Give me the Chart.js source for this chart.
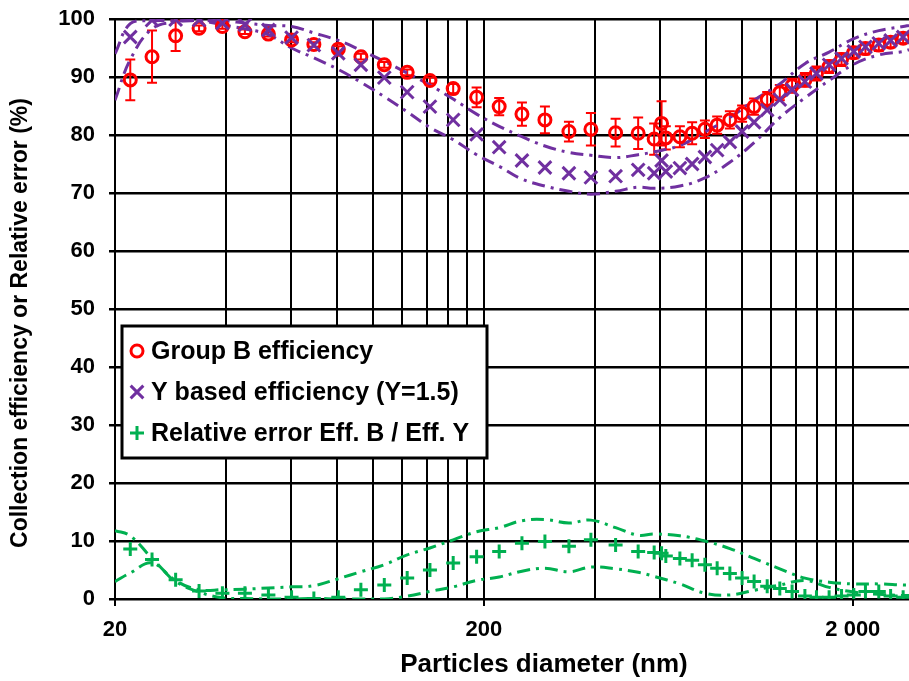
<!DOCTYPE html>
<html>
<head>
<meta charset="utf-8">
<script src="https://cdn.jsdelivr.net/npm/chart.js@4.4.1/dist/chart.umd.min.js"></script>
<style>
html,body{margin:0;padding:0;background:#fff;}
#wrap{width:909px;height:681px;position:relative;}
</style>
</head>
<body>
<div id="wrap"><canvas id="c" width="909" height="681"></canvas></div>
<script>
// ---- data ----
const seriesLabels = ['Group B efficiency', 'Y based efficiency (Y=1.5)', 'Relative error Eff. B / Eff. Y'];

// first instrument (fine channels)
const smpsDiameters = [22.0, 25.2, 29.2, 33.8, 39.1, 45.0, 52.1, 60.2, 69.2, 80.6, 92.8, 107.4, 123.9, 142.8, 165.1, 191.1, 220.0, 253.6, 292.7, 340.0, 390.0, 455.0, 523.8, 606.2];
const smpsGroupB    = [89.5, 93.5, 97.1, 98.4, 98.7, 97.8, 97.4, 96.4, 95.6, 94.8, 93.5, 92.1, 90.8, 89.4, 88.0, 86.5, 84.9, 83.6, 82.6, 80.6, 81.0, 80.4, 80.3, 82.0];
const smpsGroupBErr = [3.5, 4.5, 2.6, 0.5, 0.4, 0.4, 0.4, 0.4, 0.4, 0.5, 0.5, 0.5, 0.5, 0.5, 0.8, 1.7, 1.5, 2.0, 2.3, 1.7, 2.8, 2.4, 2.7, 3.8];
const smpsYBased    = [96.9, 99.8, 99.9, 99.8, 99.3, 99.0, 98.1, 96.8, 95.5, 94.1, 92.1, 89.9, 87.4, 84.9, 82.6, 80.1, 77.9, 75.6, 74.4, 73.4, 72.7, 72.9, 74.0, 75.6];
const smpsRelErr    = [8.6, 6.8, 3.3, 1.4, 1.0, 1.0, 0.7, 0.3, 0.1, 0.3, 1.6, 2.4, 3.6, 5.0, 6.2, 7.3, 8.2, 9.6, 9.9, 9.1, 10.2, 9.3, 8.2, 7.9];

// second instrument (coarse channels)
const apsDiameters = [578.8, 622.5, 679.6, 733.6, 794.4, 857.6, 928.4, 1002, 1080, 1172, 1268, 1369, 1483, 1594, 1725, 1864, 2012, 2164, 2352, 2532, 2738];
const apsGroupB    = [79.3, 79.5, 79.7, 80.3, 81.0, 81.7, 82.6, 83.7, 84.9, 86.1, 87.3, 88.5, 89.5, 90.6, 91.8, 93.0, 94.2, 94.9, 95.5, 96.0, 96.7];
const apsGroupBErr = [2.7, 2.0, 1.8, 1.9, 1.5, 1.5, 1.5, 1.4, 1.4, 1.3, 1.3, 1.2, 1.2, 1.2, 1.1, 1.1, 1.0, 1.0, 1.0, 0.9, 0.9];
const apsYBased    = [73.4, 73.7, 74.3, 75.0, 76.2, 77.4, 78.8, 80.6, 82.2, 84.3, 86.1, 87.8, 89.2, 90.6, 92.1, 93.2, 94.4, 95.2, 95.8, 96.3, 96.9];
const apsRelErr    = [8.0, 7.4, 7.0, 6.7, 5.9, 5.3, 4.4, 3.6, 3.0, 2.2, 1.8, 1.3, 0.5, 0.3, 0.3, 0.5, 0.7, 1.3, 1.3, 0.5, 0.3];

// uncertainty envelopes (dash-dot lines)
const bandDiameters = [20, 22.0, 25.2, 29.2, 33.8, 39.1, 45.0, 52.1, 60.2, 69.2, 80.6, 92.8, 107.4, 123.9, 142.8, 165.1, 191.1, 220.0, 253.6, 292.7, 340.0, 390.0, 455.0, 523.8, 578.8, 679.6, 794.4, 928.4, 1080, 1268, 1483, 1725, 2012, 2352, 2738, 2840];
const yBandUpper = [94.0, 99.2, 99.7, 99.7, 99.7, 99.7, 99.3, 98.9, 98.7, 97.6, 96.3, 94.6, 92.7, 90.7, 88.6, 86.2, 83.6, 81.5, 79.7, 78.1, 77.0, 76.5, 76.1, 76.6, 77.1, 78.2, 80.5, 83.0, 86.0, 88.8, 92.3, 94.3, 96.6, 98.0, 98.7, 98.9];
const yBandLower = [86.0, 93.0, 98.3, 99.5, 99.7, 99.0, 98.3, 97.3, 95.0, 93.3, 91.3, 89.1, 86.6, 84.0, 81.3, 79.2, 76.6, 74.6, 72.4, 71.2, 70.3, 69.8, 70.3, 71.0, 70.8, 71.2, 72.6, 75.3, 78.7, 83.0, 86.4, 89.4, 92.2, 93.8, 94.4, 94.7];
const errBandA   = [11.8, 10.9, 7.0, 3.2, 1.6, 1.6, 1.7, 1.9, 2.1, 2.3, 3.5, 4.7, 5.9, 7.6, 8.8, 10.2, 11.6, 12.3, 13.5, 13.7, 13.1, 13.6, 12.3, 11.0, 11.2, 10.9, 10.0, 8.7, 7.0, 5.2, 3.6, 2.9, 2.6, 2.6, 2.4, 2.4];
const errBandB   = [3.0, 4.5, 6.2, 3.0, 1.2, 0.2, 0.1, 0.0, 0.0, 0.1, 0.0, 0.0, 0.0, 0.5, 1.3, 2.1, 3.2, 3.8, 4.8, 5.3, 4.7, 5.5, 5.2, 4.6, 3.9, 2.6, 1.0, 0.7, 1.5, 2.4, 3.2, 2.0, 1.2, 0.8, 0.6, 0.6];

// axes
const xTickValues = [20, 40, 60, 80, 100, 120, 140, 160, 180, 200, 400, 600, 800, 1000, 1200, 1400, 1600, 1800, 2000];
const xTickLabels = {20: '20', 200: '200', 2000: '2 000'};
const xMin = 20, xMax = 2840;
const yMin = 0, yMax = 100, yStep = 10;
const xTitle = 'Particles diameter (nm)';
const yTitle = 'Collection efficiency or Relative error (%)';

// ---- styling ----
const RED = '#FF0000', PURPLE = '#7030A0', GREEN = '#00B050';
const FONT = "'Liberation Sans', Arial, sans-serif";
const DASHDOT = [13, 6, 3, 6];

const pts = (xs, ys) => xs.map((x, i) => ({x: x, y: ys[i]}));
const groupBErr = smpsGroupBErr.concat(apsGroupBErr);

const errorBars = {
  id: 'errorBars',
  beforeDatasetsDraw(chart) {
    const ds = chart.data.datasets[0];
    const xs = chart.scales.x, ys = chart.scales.y, ctx = chart.ctx;
    const a = chart.chartArea;
    ctx.save();
    ctx.beginPath(); ctx.rect(a.left, a.top, a.right - a.left, a.bottom - a.top); ctx.clip();
    ctx.strokeStyle = RED; ctx.lineWidth = 2;
    ds.data.forEach((p, i) => {
      const e = groupBErr[i];
      const px = xs.getPixelForValue(p.x);
      const y1 = ys.getPixelForValue(p.y + e), y2 = ys.getPixelForValue(p.y - e);
      ctx.beginPath();
      ctx.moveTo(px, y1); ctx.lineTo(px, y2);
      ctx.moveTo(px - 5, y1); ctx.lineTo(px + 5, y1);
      ctx.moveTo(px - 5, y2); ctx.lineTo(px + 5, y2);
      ctx.stroke();
    });
    ctx.restore();
  }
};

// axis titles drawn at their positions in the reference
const axisTitles = {
  id: 'axisTitles',
  afterDraw(chart) {
    const ctx = chart.ctx;
    ctx.save();
    ctx.fillStyle = '#000';
    ctx.textAlign = 'center';
    ctx.textBaseline = 'middle';
    ctx.font = 'bold 26px ' + FONT;
    ctx.fillText(xTitle, 544, 665);
    ctx.translate(21, 323);
    ctx.rotate(-Math.PI / 2);
    ctx.font = 'bold 23px ' + FONT;
    ctx.fillText(yTitle, 0, 0);
    ctx.restore();
  }
};

const legendBox = {
  id: 'legendBox',
  afterDraw(chart) {
    const ctx = chart.ctx;
    const bx = 122, by = 326, bw = 365, bh = 132;
    ctx.save();
    ctx.fillStyle = '#fff';
    ctx.fillRect(bx, by, bw, bh);
    ctx.strokeStyle = '#000'; ctx.lineWidth = 3;
    ctx.strokeRect(bx, by, bw, bh);
    const styles = [
      {ds: 0, style: 'circle', r: 6, color: RED},
      {ds: 1, style: 'crossRot', r: 9, color: PURPLE},
      {ds: 2, style: 'cross', r: 7, color: GREEN}
    ];
    ctx.font = 'bold 25px ' + FONT;
    ctx.textBaseline = 'middle';
    ctx.textAlign = 'left';
    styles.forEach((s, i) => {
      const cy = by + 25 + i * 41;
      ctx.strokeStyle = s.color; ctx.fillStyle = 'rgba(0,0,0,0)'; ctx.lineWidth = 3;
      Chart.helpers.drawPoint(ctx, {pointStyle: s.style, radius: s.r, rotation: 0, borderWidth: 3}, bx + 15, cy);
      ctx.fillStyle = '#000';
      ctx.fillText(chart.data.datasets[s.ds].label, bx + 29, cy + 1);
    });
    ctx.restore();
  }
};

new Chart(document.getElementById('c'), {
  type: 'scatter',
  data: {
    datasets: [
      {label: seriesLabels[0], data: pts(smpsDiameters, smpsGroupB).concat(pts(apsDiameters, apsGroupB)),
       pointStyle: 'circle', pointRadius: 6, pointBorderWidth: 3, borderColor: RED, backgroundColor: 'rgba(0,0,0,0)', order: 2},
      {label: seriesLabels[1], data: pts(smpsDiameters, smpsYBased).concat(pts(apsDiameters, apsYBased)),
       pointStyle: 'crossRot', pointRadius: 9, pointBorderWidth: 3, borderColor: PURPLE, backgroundColor: PURPLE, order: 1},
      {label: seriesLabels[2], data: pts(smpsDiameters, smpsRelErr).concat(pts(apsDiameters, apsRelErr)),
       pointStyle: 'cross', pointRadius: 7, pointBorderWidth: 3, borderColor: GREEN, backgroundColor: GREEN, order: 3},
      {label: 'Y upper', type: 'line', data: pts(bandDiameters, yBandUpper), borderColor: PURPLE, borderWidth: 3, borderDash: DASHDOT, pointRadius: 0, tension: 0.4, fill: false, order: 5},
      {label: 'Y lower', type: 'line', data: pts(bandDiameters, yBandLower), borderColor: PURPLE, borderWidth: 3, borderDash: DASHDOT, pointRadius: 0, tension: 0.4, fill: false, order: 5},
      {label: 'Err A', type: 'line', data: pts(bandDiameters, errBandA), borderColor: GREEN, borderWidth: 3, borderDash: DASHDOT, pointRadius: 0, tension: 0.4, fill: false, order: 6},
      {label: 'Err B', type: 'line', data: pts(bandDiameters, errBandB), borderColor: GREEN, borderWidth: 3, borderDash: DASHDOT, pointRadius: 0, tension: 0.4, fill: false, order: 6}
    ]
  },
  options: {
    responsive: false,
    animation: false,
    devicePixelRatio: 1,
    layout: {autoPadding: false, padding: {left: 0, right: 0, top: 19, bottom: 0}},
    plugins: {legend: {display: false}, tooltip: {enabled: false}},
    scales: {
      x: {
        type: 'logarithmic', min: xMin, max: xMax,
        afterBuildTicks: (axis) => { axis.ticks = xTickValues.map(v => ({value: v, major: !!xTickLabels[v]})); },
        afterFit: (scale) => { scale.height = 82; scale.paddingLeft = 0; scale.paddingRight = 0; },
        ticks: {autoSkip: false, maxRotation: 0, minRotation: 0, padding: 11, color: '#000',
                font: {family: FONT, size: 22, weight: 'bold'},
                callback: (v) => xTickLabels[v] || ''},
        grid: {color: '#000', lineWidth: 2, drawTicks: true, tickLength: 7, tickWidth: 2,
               tickColor: (c) => (c.tick && xTickLabels[c.tick.value]) ? '#000' : 'rgba(0,0,0,0)'},
        border: {color: '#000', width: 2},
        title: {display: false, text: xTitle}
      },
      y: {
        min: yMin, max: yMax,
        afterFit: (scale) => { scale.width = 115; scale.paddingTop = 0; scale.paddingBottom = 0; },
        ticks: {stepSize: yStep, padding: 14, color: '#000', font: {family: FONT, size: 22, weight: 'bold'}},
        grid: {color: '#000', lineWidth: 2.5, drawTicks: true, tickLength: 6, tickColor: '#000'},
        border: {color: '#000', width: 2},
        title: {display: false, text: yTitle}
      }
    }
  },
  plugins: [errorBars, axisTitles, legendBox]
});
</script>
</body>
</html>
